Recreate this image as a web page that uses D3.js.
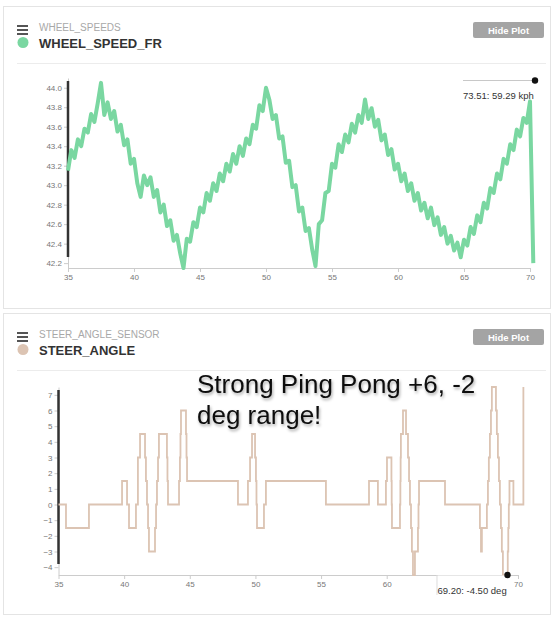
<!DOCTYPE html>
<html>
<head>
<meta charset="utf-8">
<script src="https://cdn.jsdelivr.net/npm/d3@7"></script>
<style>
  body { margin: 0; background: #fff; }
  svg { font-family: "Liberation Sans", Arial, sans-serif; }
  .axis text { fill: #777; font-size: 8px; }
  .axis path, .axis line { stroke: #ccc; }
</style>
</head>
<body>
<svg id="chart" width="553" height="619"></svg>
<script>
// ---- data ----
var timeTicks = [35, 40, 45, 50, 55, 60, 65, 70];
// the 65 label of the lower chart sits under the tooltip
var steerTimeTicks = [35, 40, 45, 50, 55, 60, 70];
var speedTicks = [42.2, 42.4, 42.6, 42.8, 43.0, 43.2, 43.4, 43.6, 43.8, 44.0];
var steerTicks = [-4, -3, -2, -1, 0, 1, 2, 3, 4, 5, 6, 7];

// wheel speed sampled every 0.25 s from 35 s
var speedStart = 35;
var speedStep = 0.25;
var wheelSpeed = [
  43.15, 43.36, 43.28, 43.47, 43.40, 43.58, 43.54, 43.73, 43.65, 43.84,
  44.05, 43.72, 43.85, 43.68, 43.76, 43.55, 43.62, 43.41, 43.47, 43.22,
  43.27, 43.02, 42.88, 43.10, 43.00, 43.08, 42.88, 42.95, 42.72, 42.80,
  42.58, 42.64, 42.43, 42.49, 42.30, 42.15, 42.45, 42.42, 42.62, 42.57,
  42.77, 42.72, 42.92, 42.84, 43.02, 42.94, 43.12, 43.04, 43.22, 43.14,
  43.32, 43.22, 43.40, 43.30, 43.48, 43.42, 43.62, 43.58, 43.82, 43.76,
  44.00, 43.88, 43.68, 43.72, 43.48, 43.50, 43.23, 43.25, 42.98, 43.00,
  42.73, 42.77, 42.53, 42.56, 42.34, 42.17, 42.60, 42.64, 42.92, 42.94,
  43.22, 43.18, 43.42, 43.34, 43.52, 43.44, 43.63, 43.54, 43.72, 43.64,
  43.88, 43.68, 43.79, 43.60, 43.67, 43.46, 43.52, 43.31, 43.37, 43.16,
  43.22, 43.04, 43.12, 42.94, 43.02, 42.84, 42.92, 42.74, 42.82, 42.66,
  42.77, 42.59, 42.67, 42.49, 42.57, 42.40, 42.48, 42.33, 42.41, 42.26,
  42.44, 42.38, 42.57, 42.50, 42.69, 42.62, 42.82, 42.76, 42.97, 42.92,
  43.12, 43.06, 43.27, 43.22, 43.42, 43.36, 43.57, 43.50, 43.69, 43.64,
  43.86, 42.20
];

// steer angle: time where the value changes, and the new value
var steerTimes = [
  35.00, 35.57, 37.32, 39.84, 40.22, 40.37, 40.90, 41.05, 41.21, 41.59,
  41.66, 41.74, 41.82, 41.89, 42.35, 42.43, 42.50, 42.58, 42.65, 43.26,
  43.30, 43.34, 44.18, 44.25, 44.29, 44.33, 44.71, 44.75, 44.79, 48.67,
  49.43, 49.59, 49.74, 49.97, 50.04, 50.08, 50.12, 50.65, 50.80, 55.37,
  58.65, 59.33, 59.94, 60.02, 60.36, 60.38, 60.40, 61.01, 61.04, 61.06,
  61.08, 61.24, 61.47, 61.62, 61.70, 61.77, 61.85, 61.92, 62.00, 62.15,
  62.38, 62.42, 62.46, 64.44, 67.10, 67.18, 67.25, 67.63, 67.71, 67.78,
  67.86, 67.94, 68.01, 68.32, 68.39, 68.47, 68.55, 68.62, 68.70, 68.77,
  68.85, 69.22, 69.26, 69.30, 69.35, 69.65, 70.41
];
var steerValues = [
  0, -1.5, 0, 1.5, 0, -1.5, 0, 3, 4.5, 3,
  1.5, 0, -1.5, -3, -1.5, 0, 1.5, 3, 4.5, 3,
  1.5, 0, 1.5, 3, 4.5, 6, 4.5, 3, 1.5, 0,
  1.5, 3, 4.5, 3, 1.5, 0, -1.5, 0, 1.5, 0,
  1.5, 0, 1.5, 3, 1.5, 0, -1.5, 0, 1.5, 3,
  4.5, 6, 4.5, 3, 1.5, 0, -1.5, -3, -4.5, -3,
  -1.5, 0, 1.5, 0, -1.5, -3, -1.5, 0, 1.5, 3,
  4.5, 6, 7.5, 6, 4.5, 3, 1.5, 0, -1.5, -3,
  -4.5, -3, -1.5, 0, 1.5, 0, 7.5
];

var speedColor = '#7ad7a1';
var steerColor = '#dcc4b3';

var svg = d3.select('#chart');

// drop shadow for the note
var defs = svg.append('defs');
defs.append('filter')
  .attr('id', 'shadow')
  .attr('x', '-10%').attr('y', '-30%')
  .attr('width', '120%').attr('height', '160%')
  .append('feDropShadow')
  .attr('dx', 1).attr('dy', 2)
  .attr('stdDeviation', 1.6)
  .attr('flood-color', '#000')
  .attr('flood-opacity', 0.35);

// ---- card frame + header ----
function card(top, height, group, name, color) {
  svg.append('rect')
    .attr('x', 3.5).attr('y', top + 0.5)
    .attr('width', 547).attr('height', height)
    .attr('fill', '#fff')
    .attr('stroke', '#e4e4e4');

  // hamburger icon
  [0, 4, 8].forEach(function (d) {
    svg.append('rect')
      .attr('x', 17).attr('y', top + 19 + d)
      .attr('width', 11).attr('height', 2)
      .attr('fill', '#555');
  });
  svg.append('circle')
    .attr('cx', 23).attr('cy', top + 36.5)
    .attr('r', 5.5)
    .attr('fill', color);

  svg.append('text')
    .attr('x', 39).attr('y', top + 24.5)
    .attr('font-size', '10px')
    .attr('fill', '#a8a8a8')
    .text(group);
  svg.append('text')
    .attr('x', 39).attr('y', top + 41.5)
    .attr('font-size', '13px')
    .attr('font-weight', 'bold')
    .attr('fill', '#333')
    .text(name);

  // Hide Plot button
  svg.append('rect')
    .attr('x', 473).attr('y', top + 16)
    .attr('width', 71).attr('height', 16)
    .attr('rx', 2)
    .attr('fill', '#a4a4a4');
  svg.append('text')
    .attr('x', 508.5).attr('y', top + 27.5)
    .attr('text-anchor', 'middle')
    .attr('font-size', '9.5px')
    .attr('font-weight', 'bold')
    .attr('fill', '#fff')
    .text('Hide Plot');

  svg.append('line')
    .attr('x1', 17).attr('x2', 546)
    .attr('y1', top + 57.5).attr('y2', top + 57.5)
    .attr('stroke', '#ececec');
}

card(6, 302, 'WHEEL_SPEEDS', 'WHEEL_SPEED_FR', speedColor);
card(313, 301, 'STEER_ANGLE_SENSOR', 'STEER_ANGLE', steerColor);

// ---- axes helper ----
function axes(xScale, yScale, xTicks, yTicks, yFormat) {
  var y0 = yScale.range()[0];
  var x0 = xScale.range()[0];

  svg.append('g')
    .attr('class', 'axis')
    .attr('transform', 'translate(0, ' + y0 + ')')
    .call(d3.axisBottom(xScale)
      .tickValues(xTicks)
      .tickSize(4)
      .tickSizeOuter(0)
      .tickPadding(2));

  svg.append('g')
    .attr('class', 'axis')
    .attr('transform', 'translate(' + x0 + ', 0)')
    .call(d3.axisLeft(yScale)
      .tickValues(yTicks)
      .tickFormat(yFormat)
      .tickSize(4)
      .tickSizeOuter(0)
      .tickPadding(2));

  // dark scroll handle on the y axis
  svg.append('line')
    .attr('x1', x0).attr('x2', x0)
    .attr('y1', yScale.range()[1] + 3)
    .attr('y2', y0 - 11)
    .attr('stroke', '#333')
    .attr('stroke-width', 2.5);
}

// ---- wheel speed chart ----
var xScale1 = d3.scaleLinear().domain([35, 70]).range([68, 530]);
var yScale1 = d3.scaleLinear().domain([42.15, 44.1]).range([268, 78]);

axes(xScale1, yScale1, timeTicks, speedTicks, d3.format('.1f'));

var speedLine = d3.line()
  .x(function (d, i) { return xScale1(speedStart + i * speedStep); })
  .y(function (d) { return yScale1(d); });

svg.append('path')
  .datum(wheelSpeed)
  .attr('d', speedLine)
  .attr('fill', 'none')
  .attr('stroke', speedColor)
  .attr('stroke-width', 4)
  .attr('stroke-linejoin', 'round');

// tooltip
svg.append('line')
  .attr('x1', 463).attr('x2', 535)
  .attr('y1', 80.5).attr('y2', 80.5)
  .attr('stroke', '#c8c8c8');
svg.append('circle')
  .attr('cx', 535).attr('cy', 80.5)
  .attr('r', 3.2)
  .attr('fill', '#111');
svg.append('text')
  .attr('x', 463).attr('y', 99)
  .attr('font-size', '9.5px')
  .attr('fill', '#333')
  .text('73.51: 59.29 kph');

// ---- steer angle chart ----
var xScale2 = d3.scaleLinear().domain([35, 70]).range([58.5, 518]);
var yScale2 = d3.scaleLinear().domain([-4.5, 7.5]).range([575, 387]);

axes(xScale2, yScale2, steerTimeTicks, steerTicks, d3.format('d'));

var steerLine = d3.line()
  .curve(d3.curveStepAfter)
  .x(function (d, i) { return xScale2(steerTimes[i]); })
  .y(function (d) { return yScale2(d); });

svg.append('path')
  .datum(steerValues)
  .attr('d', steerLine)
  .attr('fill', 'none')
  .attr('stroke', steerColor)
  .attr('stroke-width', 1.8);

// tooltip
var tipX = xScale2(69.2);
var tipY = yScale2(-4.5);
svg.append('rect')
  .attr('x', tipX - 70).attr('y', tipY + 0.5)
  .attr('width', 70).attr('height', 20)
  .attr('fill', '#fff');
svg.append('line')
  .attr('x1', tipX - 70.5).attr('x2', tipX - 70.5)
  .attr('y1', tipY).attr('y2', tipY + 20)
  .attr('stroke', '#ddd');
svg.append('circle')
  .attr('cx', tipX).attr('cy', tipY)
  .attr('r', 3.2)
  .attr('fill', '#111');
svg.append('text')
  .attr('x', tipX - 70).attr('y', tipY + 19)
  .attr('font-size', '9.5px')
  .attr('fill', '#333')
  .text('69.20: -4.50 deg');

// ---- note ----
var note = svg.append('text')
  .attr('font-size', '26px')
  .attr('fill', '#111')
  .attr('filter', 'url(#shadow)');
note.append('tspan').attr('x', 197).attr('y', 393).text('Strong Ping Pong +6, -2');
note.append('tspan').attr('x', 197).attr('y', 424).text('deg range!');
</script>
</body>
</html>
